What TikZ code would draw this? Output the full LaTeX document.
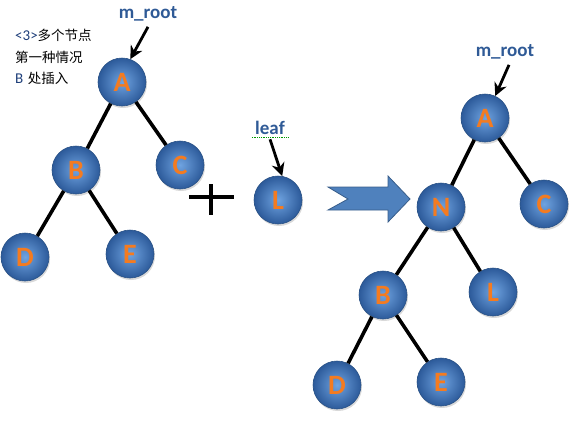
\documentclass[tikz,border=0pt]{standalone}
\usepackage{fontspec}
\setsansfont{Carlito}
\newfontfamily\cjk{Noto Sans CJK SC}
\usetikzlibrary{shadows,arrows.meta}

\definecolor{ballin}{HTML}{6FA3E0}
\definecolor{ballout}{HTML}{2C5A9A}
\definecolor{balledge}{HTML}{2A5286}
\definecolor{letter}{HTML}{F47B20}
\definecolor{tagblue}{HTML}{2F5A96}
\definecolor{numblue}{HTML}{1F3F7A}
\definecolor{arrowfill}{HTML}{4F81BD}
\definecolor{arrowedge}{HTML}{385D8A}

\tikzset{
  ball/.style={circle, minimum size=48pt, inner sep=0pt, draw=balledge, line width=0.6pt,
    inner color=ballin, outer color=ballout,
    drop shadow={opacity=0.3, shadow xshift=1pt, shadow yshift=-2pt},
    font=\sffamily\bfseries\fontsize{28}{28}\selectfont, text=letter},
  branch/.style={line width=3.6pt},
  pointer/.style={line width=2.8pt, -{Stealth[length=13pt,width=13pt]}},
  tag/.style={font=\sffamily\bfseries\fontsize{19}{19}\selectfont, text=tagblue},
  note/.style={anchor=west, inner sep=0pt, font=\fontsize{13.5}{13.5}\selectfont},
}

\begin{document}
\begin{tikzpicture}[x=1pt,y=-1pt]
  \useasboundingbox (0,0) rectangle (573,445);

  % Texto
  \node[note] (t1) at (15,35) {\textcolor{numblue}{\sffamily\fontsize{15}{15}\selectfont <3>}\cjk 多个节点};
  \node[note] (t2) at (15,57) {\cjk 第一种情况};
  \node[note] (t3) at (15,78) {\textcolor{numblue}{\sffamily\fontsize{15}{15}\selectfont B} \cjk 处插入};

  % Arvore antes
  \node[ball] (A1) at (122,82) {A};
  \node[ball] (B1) at (76,170) {B};
  \node[ball] (C1) at (180,165) {C};
  \node[ball] (D1) at (25,257) {D};
  \node[ball] (E1) at (130,254) {E};

  \draw[branch] (A1) -- (B1);
  \draw[branch] (A1) -- (C1);
  \draw[branch] (B1) -- (D1);
  \draw[branch] (B1) -- (E1);

  \node[tag] (root1) at (148,14) {m\_root};
  \draw[pointer] ([yshift=-2pt]root1.south) -- (A1.70);

  % Mais
  \coordinate (plus) at (211,197);
  \draw[line width=3.2pt] ([xshift=-22pt]plus) -- ([xshift=23pt]plus);
  \draw[line width=3.2pt] ([yshift=13pt]plus) -- ([yshift=-18pt]plus);

  % Folha
  \node[ball] (L1) at (278,200) {L};
  \node[tag] (leaf) at (270,128) {leaf};
  \draw[green!60!black, densely dotted, line width=0.8pt]
    ([yshift=1pt]leaf.south west) -- ([yshift=1pt]leaf.south east);
  \draw[pointer] ([yshift=-1pt]leaf.south) -- (L1.80);

  % Seta grande
  \filldraw[fill=arrowfill, draw=arrowedge, line width=0.8pt]
    (328,187) -- (388,187) -- (388,176) -- (410,199) -- (388,222)
    -- (388,210) -- (328,210) -- (348,199) -- cycle;

  % Arvore depois
  \node[ball] (A2) at (485,118) {A};
  \node[ball] (N2) at (441,207) {N};
  \node[ball] (C2) at (544,204) {C};
  \node[ball] (B2) at (383,295) {B};
  \node[ball] (L2) at (493,292) {L};
  \node[ball] (D2) at (337,385) {D};
  \node[ball] (E2) at (441,382) {E};

  \draw[branch] (A2) -- (N2);
  \draw[branch] (A2) -- (C2);
  \draw[branch] (N2) -- (B2);
  \draw[branch] (N2) -- (L2);
  \draw[branch] (B2) -- (D2);
  \draw[branch] (B2) -- (E2);

  \node[tag] (root2) at (505,52) {m\_root};
  \draw[pointer] ([xshift=4pt,yshift=-2pt]root2.south) -- (A2.65);
\end{tikzpicture}
\end{document}
